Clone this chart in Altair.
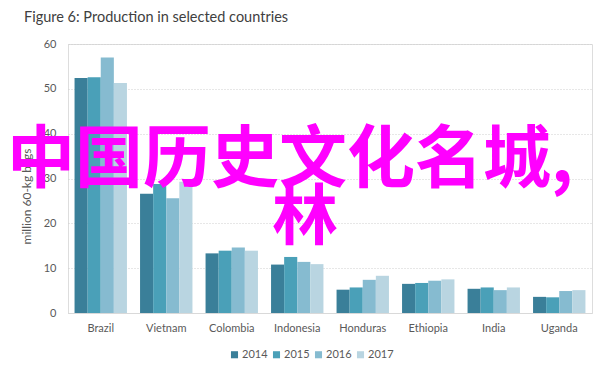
import altair as alt
import pandas as pd

countries = ["Brazil", "Vietnam", "Colombia", "Indonesia", "Honduras", "Ethiopia", "India", "Uganda"]
years = ["2014", "2015", "2016", "2017"]
v2014 = [52.4, 26.6, 13.3, 10.8, 5.2, 6.5, 5.4, 3.6]
v2015 = [52.6, 28.8, 13.9, 12.5, 5.7, 6.7, 5.7, 3.5]
v2016 = [57.0, 25.6, 14.6, 11.4, 7.4, 7.2, 5.1, 4.9]
v2017 = [51.3, 29.3, 13.9, 10.9, 8.3, 7.5, 5.7, 5.1]
colors = ["#3a7f99", "#4aa0b8", "#86bbd0", "#b9d5e1"]
overlay_lines = ["中国历史文化名城,", "林"]

rows = []
for yr, vals in zip(years, [v2014, v2015, v2016, v2017]):
    for c, v in zip(countries, vals):
        rows.append({"country": c, "year": yr, "value": v})
df = pd.DataFrame(rows)

font = "Lato"
grey = "#595959"

bars = alt.Chart(df).mark_bar().encode(
    x=alt.X("country:N", sort=countries, title=None,
            scale=alt.Scale(paddingInner=0.2, paddingOuter=0.1),
            axis=alt.Axis(labelAngle=0, labelColor=grey, labelFont=font, labelFontSize=11,
                          domainColor="#d9d9d9", ticks=False, labelPadding=9)),
    xOffset=alt.XOffset("year:N", sort=years, scale=alt.Scale(paddingInner=0, paddingOuter=0)),
    y=alt.Y("value:Q", title="million 60-kg bags",
            scale=alt.Scale(domain=[0, 60]),
            axis=alt.Axis(values=[0, 10, 20, 30, 40, 50, 60], labelColor=grey, labelFont=font,
                          labelFontSize=11, domain=False, ticks=False, labelPadding=12,
                          gridColor="#cfcfcf", gridDash=[1, 2], titleColor=grey,
                          titleFont=font, titleFontSize=12, titleFontWeight="normal",
                          titlePadding=10, titleY=152, titleAlign="center")),
    color=alt.Color("year:N", sort=years, title=None,
                    scale=alt.Scale(domain=years, range=colors),
                    legend=alt.Legend(orient="none", legendX=161, legendY=305, direction="horizontal",
                                      symbolType="square", symbolSize=50, symbolStrokeWidth=0,
                                      labelFont=font, labelFontSize=11, labelColor=grey,
                                      columnPadding=3, labelOffset=2)),
)

line1 = alt.Chart(pd.DataFrame({"t": [overlay_lines[0]]})).mark_text(
    font="Noto Sans CJK SC", fontSize=68, fontWeight="bold", color="#ff00ff",
    align="center", baseline="middle"
).encode(text="t:N", x=alt.value(222), y=alt.value(118))

line2 = alt.Chart(pd.DataFrame({"t": [overlay_lines[1]]})).mark_text(
    font="Noto Sans CJK SC", fontSize=66, fontWeight="bold", color="#ff00ff",
    align="center", baseline="middle"
).encode(text="t:N", x=alt.value(237), y=alt.value(175))

chart = alt.layer(bars, line1, line2).properties(
    width=524, height=269,
    title=alt.TitleParams("Figure 6: Production in selected countries", anchor="start",
                          frame="group", font=font, fontSize=14.5, fontWeight="normal",
                          color="#404040", dx=-44, offset=13),
    autosize=alt.AutoSizeParams(type="none"),
    padding={"left": 60, "top": 36, "right": 12, "bottom": 54},
).configure_view(stroke=None).configure(background="white")

chart.save("out.html", embed_options={"renderer": "svg", "actions": False})
